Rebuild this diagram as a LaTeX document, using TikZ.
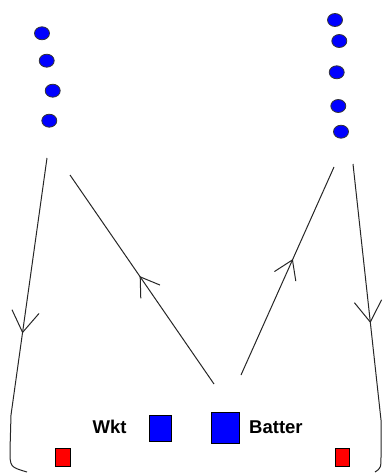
\documentclass[tikz,border=0pt]{standalone}
\usepackage{fontspec}
\setmainfont{Liberation Sans}
\usetikzlibrary{positioning, arrows.meta, shapes.geometric, decorations.markings}

\tikzset{
    fielder/.style={ellipse, draw=black!80, line width=0.8pt, fill=blue, minimum width=15pt, minimum height=13pt, inner sep=0pt},
    player/.style={draw=black, fill=blue, inner sep=0pt},
    stump/.style={draw=black, fill=red, minimum width=14.5pt, minimum height=18pt, inner sep=0pt},
    tag/.style={font=\fontsize{18.5}{22}\selectfont\bfseries, inner sep=0pt, anchor=base west},
    run/.style={black!85, line width=1pt},
    midbarb/.style 2 args={postaction={decorate, decoration={markings,
        mark=at position #1 with {\arrow{Straight Barb[length=#2, width=1.3*#2]}}}}}
}

\begin{document}
\begin{tikzpicture}[x=1pt, y=-1pt]
    \useasboundingbox (0,0) rectangle (383,473);

    % Fielders on the left
    \foreach \n/\x/\y in {1/42/33.3, 2/46.7/60.7, 3/52.7/90.7, 4/49.3/120.7}
        \node[fielder] (l\n) at (\x,\y) {};
    % Fielders on the right
    \foreach \n/\x/\y in {1/335/20, 2/339.3/41, 3/336.7/72.3, 4/338.3/106, 5/341/131.7}
        \node[fielder] (r\n) at (\x,\y) {};

    % Keeper, batter and stumps
    \node[player, minimum width=21.7pt, minimum height=26.7pt] (wkt) at (160,428.3) {};
    \node[player, minimum width=28pt, minimum height=30.4pt] (batter) at (224.7,427.5) {};
    \node[tag] (wktlabel) at (92.5,433) {Wkt};
    \node[tag] (batterlabel) at (249,433) {Batter};
    \node[stump] (leftstump) at (62.5,457) {};
    \node[stump] (rightstump) at (342,457) {};

    % Ends of the runs
    \coordinate (lotop) at (47,158);
    \coordinate (lobend) at (11,415);
    \coordinate (lolow) at (10,450);
    \coordinate (loend) at (27,472);
    \coordinate (listart) at (214,384);
    \coordinate (liend) at (70,175);
    \coordinate (ristart) at (241,375);
    \coordinate (riend) at (334,167);
    \coordinate (rotop) at (353,164);
    \coordinate (robend) at (381,420);
    \coordinate (rolow) at (381,455);
    \coordinate (roend) at (375,472);

    % Runs with arrows
    \draw[run, midbarb={177pt}{21pt}] (lotop) -- (lobend) -- (lolow) .. controls (10,467) .. (loend);
    \draw[run, midbarb={131pt}{18pt}] (listart) -- (liend);
    \draw[run, midbarb={127pt}{18pt}] (ristart) -- (riend);
    \draw[run, midbarb={160pt}{21pt}] (rotop) -- (robend) -- (rolow) .. controls (381,468) .. (roend);
\end{tikzpicture}
\end{document}
